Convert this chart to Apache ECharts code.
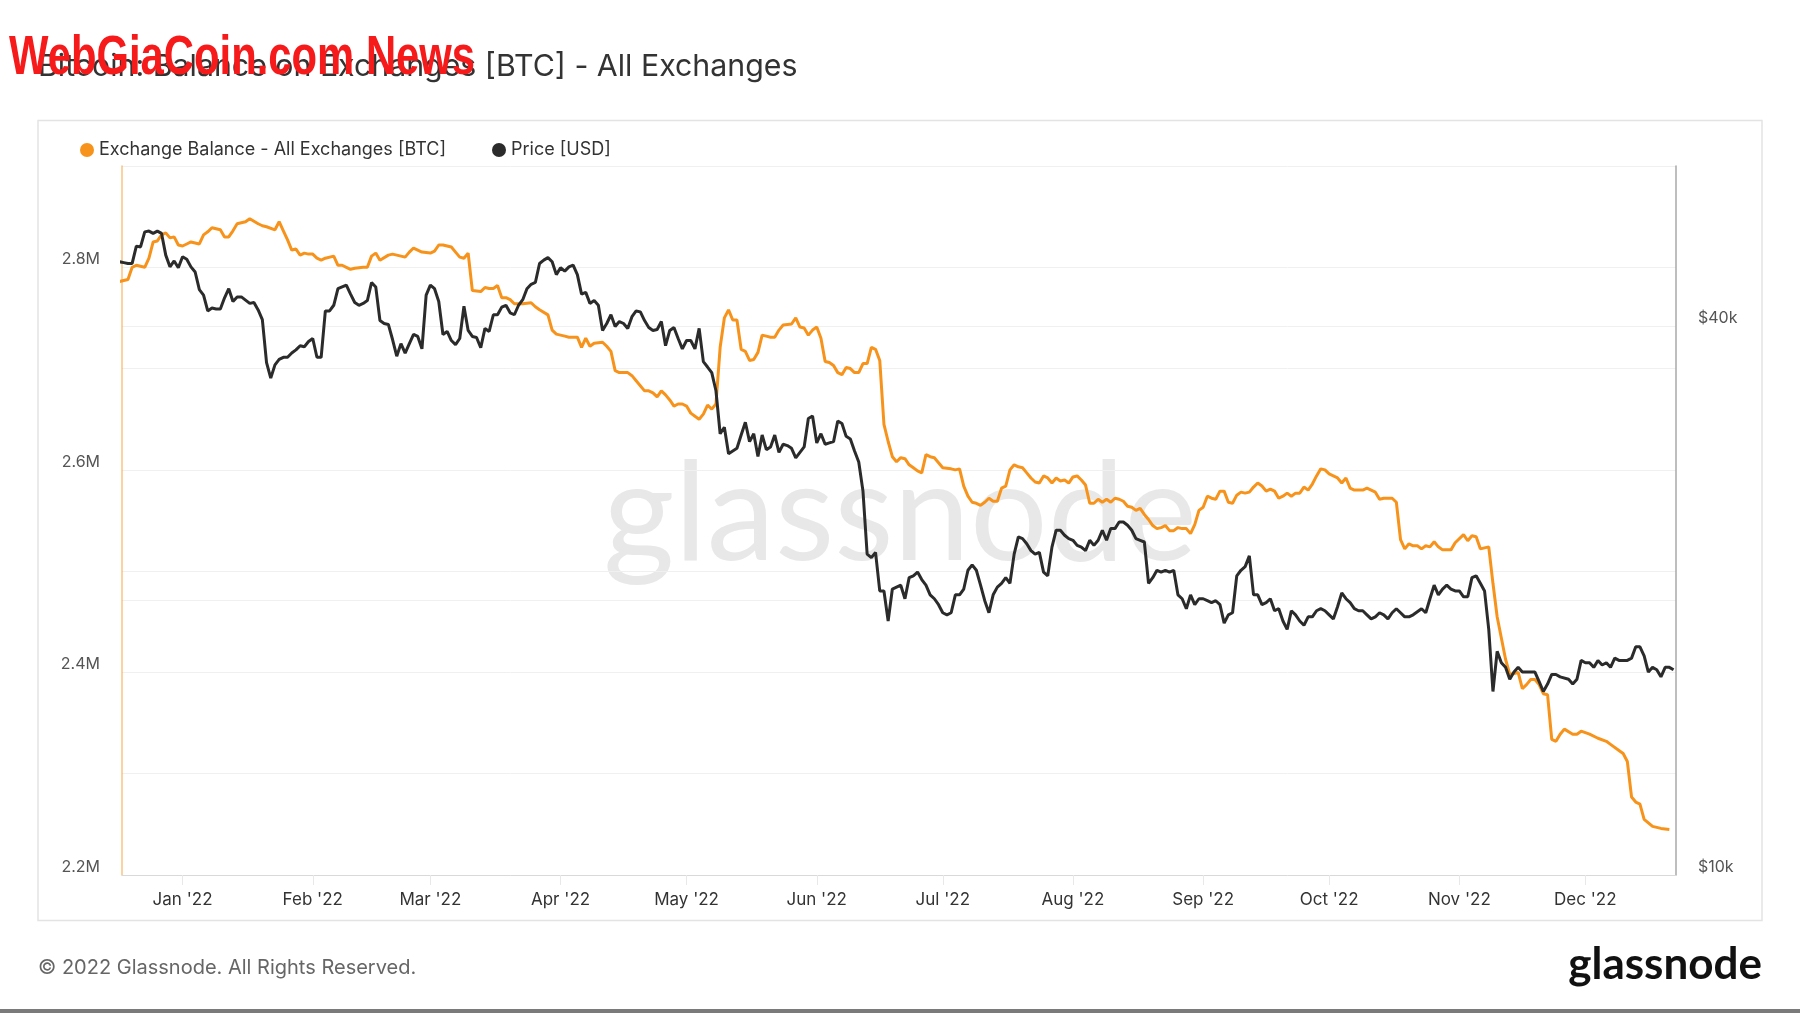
<!DOCTYPE html>
<html><head><meta charset="utf-8">
<script src="https://cdn.jsdelivr.net/npm/echarts@6/dist/echarts.min.js"></script>
<style>html,body{margin:0;padding:0;background:#fff}#c{width:1800px;height:1013px}</style>
</head><body><div id="c"></div>
<script>
const titleText = 'Bitcoin: Balance on Exchanges [BTC] - All Exchanges';
const seriesNames = ['Exchange Balance - All Exchanges [BTC]', 'Price [USD]'];
const monthNames = ['Jan','Feb','Mar','Apr','May','Jun','Jul','Aug','Sep','Oct','Nov','Dec'];
const rightGridValues = [10, 20, 40];              // thousand USD
const rightLabelValues = [10, 40];                 // thousand USD

// days counted from 2022-01-01
const balanceDays = [-15,-13,-12,-11,-9,-8,-7,-6,-5,-4,-3,-2,-1,0,1,2,4,5,6,7,9,10,11,12,13,14,15,16,18,19,20,22,23,24,25,26,27,28,29,30,31,32,33,34,36,37,38,39,40,41,43,44,45,46,47,49,50,52,53,54,55,57,59,60,61,62,64,65,66,67,68,69,71,72,73,74,75,76,77,78,79,81,83,84,85,87,88,89,91,92,94,95,96,97,98,100,101,102,103,104,106,107,108,110,111,112,113,114,115,116,117,118,119,120,121,122,123,124,125,126,127,128,129,130,131,132,133,134,135,136,137,138,139,140,141,142,143,145,146,147,148,149,150,151,152,153,154,155,156,157,158,159,160,161,162,163,164,165,166,167,168,169,170,171,172,173,174,175,176,177,178,179,180,181,183,184,185,186,187,188,189,190,191,192,193,194,195,196,197,198,199,200,201,202,203,204,205,206,207,208,209,210,211,212,213,214,215,216,217,218,219,220,221,222,223,224,225,226,227,228,229,230,231,232,233,234,235,236,237,238,239,240,241,242,243,244,245,246,247,248,249,250,251,252,253,254,255,256,257,258,259,260,261,262,263,264,265,266,267,268,269,270,271,272,273,274,275,276,277,278,279,281,282,283,284,285,286,288,289,290,291,292,293,294,295,296,297,298,299,300,302,303,305,306,307,308,309,311,312,313,314,315,316,317,318,319,320,321,322,323,324,325,326,327,328,329,331,332,333,335,337,339,340,342,343,344,345,346,347,348,350,351,352,354];
const balanceMBTC = [2.786,2.788,2.800,2.802,2.800,2.809,2.825,2.826,2.832,2.834,2.829,2.830,2.822,2.821,2.823,2.825,2.823,2.832,2.835,2.839,2.837,2.830,2.830,2.836,2.843,2.844,2.845,2.848,2.843,2.841,2.840,2.837,2.845,2.836,2.827,2.817,2.818,2.812,2.814,2.813,2.813,2.809,2.807,2.809,2.811,2.802,2.802,2.800,2.798,2.799,2.800,2.800,2.811,2.814,2.807,2.812,2.813,2.811,2.810,2.815,2.819,2.815,2.814,2.816,2.822,2.822,2.820,2.815,2.810,2.809,2.814,2.777,2.776,2.780,2.779,2.779,2.782,2.770,2.770,2.768,2.764,2.764,2.765,2.761,2.758,2.753,2.738,2.734,2.732,2.731,2.731,2.721,2.730,2.722,2.725,2.726,2.722,2.717,2.698,2.696,2.696,2.693,2.688,2.678,2.678,2.676,2.672,2.678,2.674,2.669,2.663,2.665,2.665,2.663,2.656,2.653,2.650,2.655,2.664,2.660,2.665,2.721,2.750,2.758,2.748,2.748,2.719,2.717,2.708,2.709,2.716,2.733,2.732,2.731,2.731,2.738,2.743,2.744,2.750,2.741,2.740,2.733,2.738,2.741,2.730,2.707,2.706,2.703,2.696,2.694,2.701,2.700,2.696,2.696,2.705,2.705,2.721,2.719,2.708,2.645,2.628,2.613,2.608,2.612,2.611,2.605,2.602,2.599,2.597,2.615,2.613,2.612,2.607,2.602,2.601,2.600,2.601,2.584,2.574,2.568,2.567,2.565,2.568,2.572,2.569,2.569,2.582,2.584,2.600,2.605,2.603,2.602,2.597,2.592,2.588,2.587,2.594,2.592,2.587,2.592,2.589,2.590,2.587,2.593,2.594,2.590,2.585,2.567,2.567,2.571,2.568,2.571,2.568,2.572,2.571,2.569,2.564,2.563,2.560,2.562,2.556,2.551,2.545,2.542,2.543,2.545,2.540,2.540,2.543,2.542,2.542,2.537,2.546,2.560,2.563,2.574,2.572,2.571,2.579,2.579,2.568,2.567,2.575,2.578,2.577,2.578,2.583,2.587,2.584,2.579,2.581,2.579,2.572,2.574,2.577,2.574,2.577,2.577,2.583,2.580,2.586,2.594,2.601,2.600,2.596,2.594,2.592,2.587,2.592,2.582,2.580,2.580,2.582,2.580,2.578,2.571,2.572,2.572,2.568,2.531,2.522,2.527,2.525,2.525,2.522,2.525,2.524,2.529,2.524,2.521,2.521,2.528,2.536,2.530,2.535,2.534,2.522,2.524,2.488,2.455,2.434,2.413,2.398,2.399,2.400,2.384,2.388,2.393,2.393,2.388,2.379,2.378,2.334,2.332,2.339,2.344,2.339,2.339,2.342,2.339,2.335,2.332,2.329,2.323,2.320,2.312,2.277,2.272,2.270,2.255,2.248,2.247,2.246,2.245];

const priceDays = [-15,-14,-13,-12,-11,-10,-9,-8,-7,-6,-5,-4,-3,-2,-1,0,1,2,3,4,5,6,7,8,9,10,11,12,13,14,16,17,18,19,20,21,22,23,24,25,26,27,28,29,30,31,32,33,34,35,36,37,38,39,40,41,42,43,44,45,46,47,48,49,50,51,52,53,54,55,56,57,58,59,60,61,62,63,64,65,66,67,68,69,70,71,72,73,74,75,76,77,78,79,80,81,82,83,84,85,86,87,88,89,90,91,92,93,94,95,96,97,98,99,100,101,102,103,104,105,106,107,108,109,110,111,112,113,114,115,116,117,118,119,120,121,122,123,124,125,126,127,128,129,130,131,132,133,134,135,136,137,138,139,140,141,142,143,144,145,146,147,148,149,150,151,152,153,154,155,156,157,158,159,160,161,162,163,164,165,166,167,168,169,170,171,172,173,174,175,176,177,178,179,180,181,182,183,184,185,186,187,188,189,190,191,192,193,194,195,196,197,198,199,200,201,202,203,204,205,206,207,208,209,210,211,212,213,214,215,216,217,218,219,220,221,222,223,224,225,226,227,228,229,230,231,232,233,234,235,236,237,238,239,240,241,242,243,244,245,246,247,248,249,250,251,252,253,254,255,256,257,258,259,260,261,262,263,264,265,266,267,268,269,270,271,272,273,274,275,276,277,278,279,280,281,282,283,284,285,286,287,288,289,290,291,292,293,295,296,297,298,299,300,301,302,303,304,305,306,307,308,309,310,311,312,313,314,315,316,317,318,319,320,322,323,324,325,326,327,328,330,331,332,333,334,335,336,337,338,339,340,341,342,343,344,345,346,347,348,349,350,351,352,353,354,355];
const priceKUSD = [47.1,47.0,46.9,46.9,49.0,48.9,50.8,50.9,50.6,50.9,50.6,47.9,46.5,47.2,46.4,47.7,47.4,46.5,45.9,43.9,43.3,41.6,41.9,41.8,41.8,43.0,44.0,42.6,43.1,43.1,42.4,42.5,41.7,40.7,36.5,35.1,36.3,36.8,37.0,37.0,37.4,37.7,38.1,38.0,38.5,38.8,37.0,37.0,41.6,41.6,42.2,44.0,44.2,44.4,43.4,42.5,42.2,42.4,42.7,44.7,44.2,40.6,40.3,40.2,38.7,37.1,38.3,37.4,38.3,39.2,39.0,37.8,43.3,44.4,44.0,42.6,39.2,39.5,38.6,38.2,38.8,42.1,39.6,39.0,38.9,37.9,39.8,39.5,41.2,41.2,42.0,42.2,41.4,41.2,42.2,42.8,44.0,44.5,44.7,46.9,47.3,47.6,47.1,45.6,46.4,46.0,46.5,46.7,45.6,43.4,43.6,42.4,42.7,42.2,39.6,40.3,41.2,40.0,40.5,40.3,39.8,41.0,41.6,41.5,40.6,39.9,39.6,39.7,40.5,38.1,39.6,39.9,38.8,37.8,38.6,38.6,37.8,39.8,36.6,36.1,35.6,34.0,30.5,31.0,29.0,29.2,29.4,30.4,31.4,29.9,30.5,28.8,30.4,29.3,29.5,30.4,29.1,29.7,29.6,29.4,28.7,29.1,29.5,31.7,31.9,29.8,30.5,29.7,29.8,29.9,31.5,31.3,30.3,30.1,29.2,28.4,26.4,22.5,22.3,22.6,20.5,20.5,19.0,20.6,20.7,20.8,20.1,21.2,21.3,21.5,21.1,20.8,20.3,20.1,19.8,19.4,19.3,19.4,20.3,20.3,20.6,21.6,21.9,21.6,20.8,20.0,19.4,20.3,20.7,20.9,21.2,20.9,22.5,23.5,23.4,23.1,22.7,22.5,22.6,21.5,21.3,22.9,23.9,23.9,23.6,23.4,23.3,23.0,22.9,22.7,23.3,23.0,23.3,23.9,23.3,24.0,24.0,24.4,24.4,24.2,23.9,23.4,23.3,23.2,20.9,21.2,21.6,21.5,21.6,21.5,21.6,20.3,20.1,19.6,20.3,19.8,20.1,20.1,20.0,19.9,20.0,19.8,18.9,19.3,19.4,21.3,21.6,21.8,22.4,20.3,20.3,19.8,19.9,20.1,19.5,19.6,19.0,18.6,19.5,19.3,19.0,18.8,19.2,19.2,19.5,19.6,19.5,19.3,19.1,19.7,20.4,20.1,19.9,19.6,19.5,19.5,19.3,19.1,19.2,19.4,19.3,19.1,19.4,19.6,19.4,19.2,19.2,19.3,19.6,19.4,20.1,20.8,20.3,20.6,20.8,20.6,20.5,20.5,20.2,20.2,21.2,21.3,20.9,20.5,18.6,15.9,17.6,17.1,16.9,16.4,16.7,16.9,16.7,16.7,16.7,16.3,15.9,16.2,16.6,16.6,16.5,16.4,16.2,16.4,17.2,17.1,17.1,16.9,17.2,17.0,17.1,16.9,17.3,17.2,17.2,17.2,17.3,17.8,17.8,17.4,16.7,16.9,16.8,16.5,16.9,16.9,16.8];

const DAY0 = Date.UTC(2022, 0, 1);
const DAY = 86400000;
const toTime = d => DAY0 + d * DAY;

const balanceData = balanceDays.map((d, i) => [toTime(d), balanceMBTC[i]]);
const priceData = priceDays.map((d, i) => [toTime(d), priceKUSD[i]]);

const X_MIN = Date.UTC(2021, 11, 17, 14);
const X_MAX = X_MIN + 370 * DAY;

const ORANGE = '#f7931a';
const DARK = '#2b2b2b';
const FONT = 'Inter, "Noto Sans", sans-serif';

const chart = echarts.init(document.getElementById('c'), null, {renderer: 'canvas'});
chart.setOption({
  backgroundColor: '#ffffff',
  animation: false,
  textStyle: {fontFamily: FONT},
  grid: {left: 122, right: 124, top: 166, bottom: 138, containLabel: false},
  legend: {
    left: 75, top: 136, icon: 'circle', itemWidth: 14, itemHeight: 14, itemGap: 46,
    textStyle: {fontSize: 18, color: '#333', fontFamily: FONT},
    data: seriesNames
  },
  xAxis: {
    type: 'time',
    min: X_MIN,
    max: X_MAX,
    splitNumber: 12,
    minInterval: 28 * DAY,
    maxInterval: 31 * DAY,
    axisLine: {show: true, lineStyle: {color: '#d9d9d9', width: 1}},
    axisTick: {show: true, length: 10, lineStyle: {color: '#e8e8e8'}},
    axisLabel: {
      fontSize: 17, color: '#333', margin: 16, fontFamily: FONT,
      formatter: v => { const d = new Date(v); return monthNames[d.getUTCMonth()] + " '" + String(d.getUTCFullYear()).slice(2); }
    },
    splitLine: {show: false}
  },
  yAxis: [{
    type: 'value', position: 'left', min: 2.2, max: 2.9, interval: 0.1,
    axisLine: {show: true, lineStyle: {color: 'rgba(247,147,26,0.55)', width: 1.5}},
    axisTick: {show: false},
    splitLine: {show: true, lineStyle: {color: '#f0f0f0', width: 1}},
    axisLabel: {
      fontSize: 16, color: '#555', margin: 22, verticalAlign: 'bottom', fontFamily: FONT,
      formatter: v => (Math.round(v * 10) % 2 === 0) ? v.toFixed(1) + 'M' : ''
    }
  }, {
    type: 'log', logBase: 2, position: 'right', min: 10, max: 60,
    axisLine: {show: true, lineStyle: {color: '#a8a8a8', width: 1.5}},
    axisTick: {show: false, customValues: rightGridValues},
    splitLine: {show: true, lineStyle: {color: '#f0f0f0', width: 1}},
    axisLabel: {
      customValues: rightLabelValues,
      fontSize: 16, color: '#555', margin: 22, verticalAlign: 'bottom', fontFamily: FONT,
      formatter: v => '$' + Math.round(v) + 'k'
    }
  }],
  series: [{
    name: seriesNames[0], type: 'line', yAxisIndex: 0, data: balanceData,
    showSymbol: false, symbol: 'none', z: 3,
    lineStyle: {color: ORANGE, width: 3}, itemStyle: {color: ORANGE}
  }, {
    name: seriesNames[1], type: 'line', yAxisIndex: 1, data: priceData,
    showSymbol: false, symbol: 'none', z: 4,
    lineStyle: {color: DARK, width: 3}, itemStyle: {color: DARK}
  }],
  graphic: [
    {type: 'rect', z: -10, silent: true, shape: {x: 38, y: 120.5, width: 1724, height: 800}, style: {fill: 'none', stroke: '#e3e3e3', lineWidth: 1.5}},
    {type: 'text', z: 0, silent: true, x: 900, y: 516, style: {text: 'glassnode', fontSize: 137, fontFamily: 'Lato, "Open Sans", sans-serif', fill: '#e8e8e8', align: 'center', verticalAlign: 'middle'}},
    {type: 'text', z: 100, silent: true, x: 38, y: 67, style: {text: titleText, fontSize: 30.3, fontFamily: FONT, fill: '#333', align: 'left', verticalAlign: 'middle'}},
    {type: 'text', z: 101, silent: true, x: 9, y: 59, scaleX: 0.76, style: {text: 'WebGiaCoin.com News', fontSize: 55, fontWeight: 'bold', fontFamily: '"Liberation Sans", Arial, sans-serif', fill: '#f61a1a', align: 'left', verticalAlign: 'middle'}},
    {type: 'text', z: 100, silent: true, x: 38, y: 968, style: {text: '\u00a9 2022 Glassnode. All Rights Reserved.', fontSize: 20, fontFamily: FONT, fill: '#666', align: 'left', verticalAlign: 'middle'}},
    {type: 'text', z: 100, silent: true, x: 1762, y: 965, style: {text: 'glassnode', fontSize: 44, fontWeight: 'bold', fontFamily: 'Lato, "Open Sans", sans-serif', fill: '#111', align: 'right', verticalAlign: 'middle'}},
    {type: 'rect', z: 100, silent: true, shape: {x: 0, y: 1009, width: 1800, height: 4}, style: {fill: '#7a7a7a'}}
  ]
});
</script></body></html>
